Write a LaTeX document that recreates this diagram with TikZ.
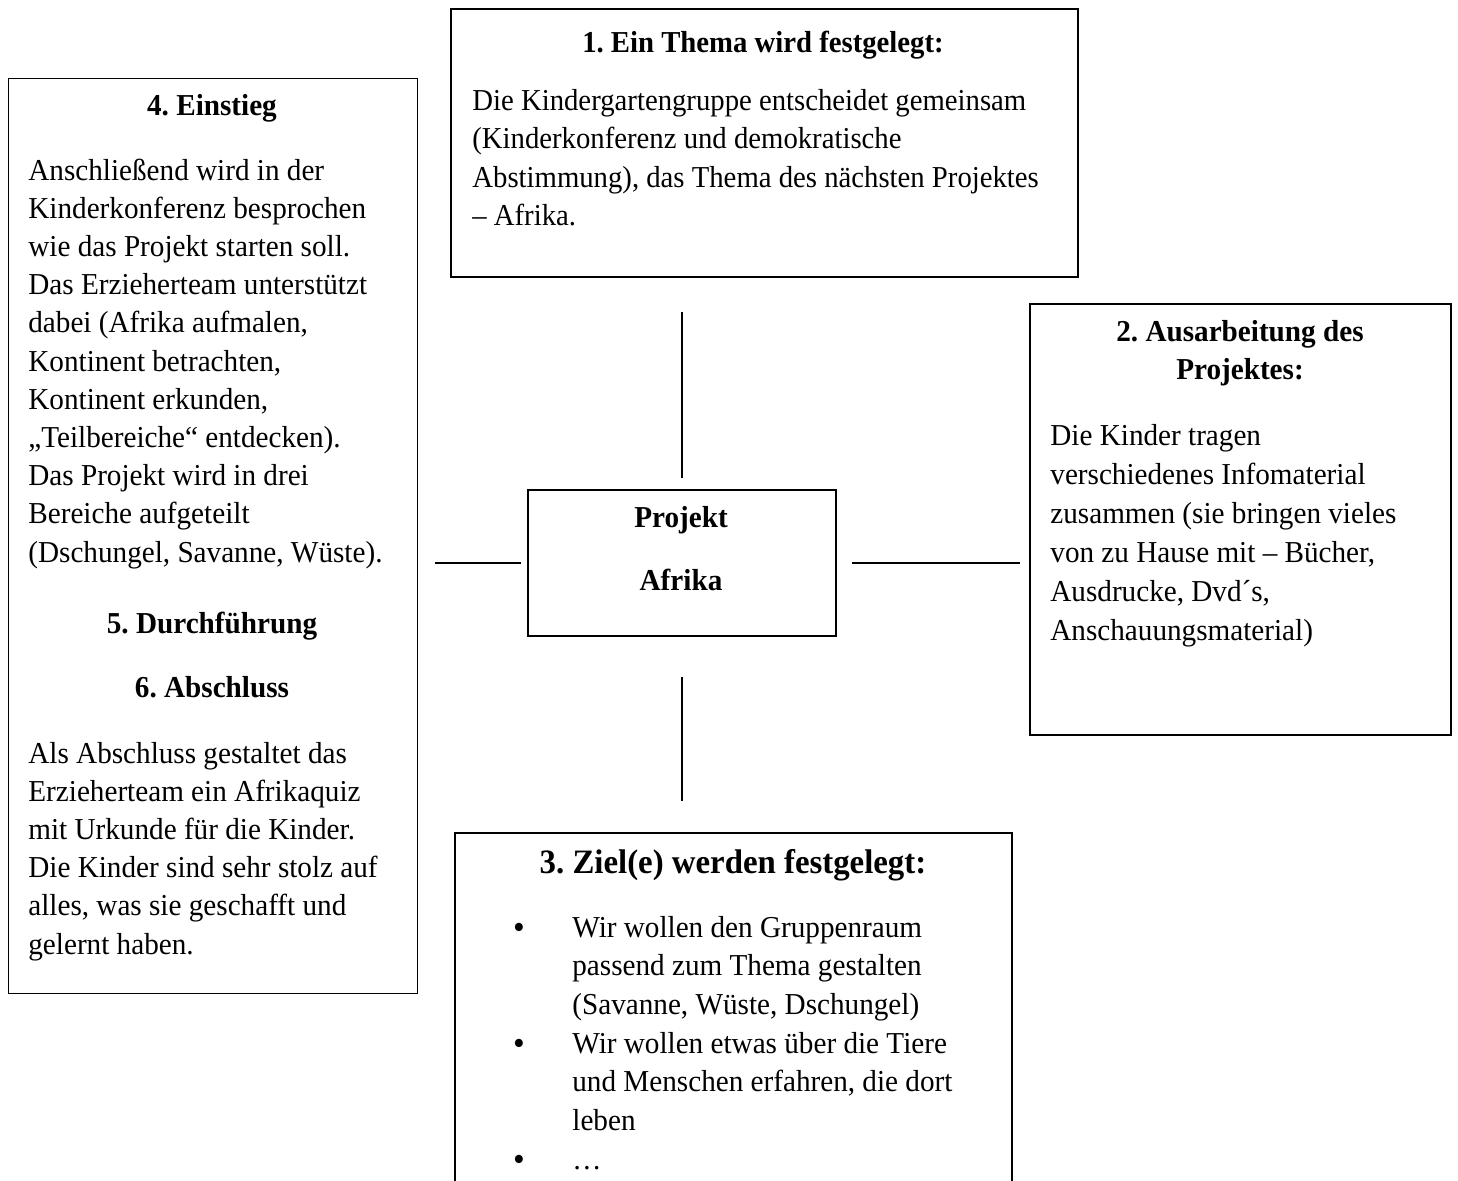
\documentclass[tikz,border=0pt]{standalone}
\usepackage{fontspec}
\setmainfont{Liberation Serif}[FakeStretch=0.96]
\newfontfamily\schmalfont[FakeStretch=0.945]{Liberation Serif}
\usepackage{tikz}
\frenchspacing

\tikzset{
  kasten/.style={draw, line width=0.9pt, rectangle, anchor=north west, inner sep=0pt},
  titel/.style={font=\fontsize{15.2}{19.25}\selectfont\bfseries, anchor=base, inner sep=0pt},
  fliess/.style={font=\fontsize{15.2}{19.25}\selectfont, anchor=base west, align=flush left, text width=300pt, inner sep=0pt},
  linie/.style={line width=0.8pt}
}

\begin{document}
\begin{tikzpicture}[x=0.5pt, y=-0.5pt]
\useasboundingbox (0,0) rectangle (1458,1180);

% Kästen
\node[kasten, minimum width=313.5pt, minimum height=134pt] (thema) at (450,8) {};
\node[kasten, line width=0.7pt, minimum width=204.5pt, minimum height=457.5pt] (einstieg) at (8,78) {};
\node[kasten, minimum width=210.5pt, minimum height=215.5pt] (ausarbeitung) at (1029,303) {};
\node[kasten, line width=1pt, minimum width=154pt, minimum height=73pt] (mitte) at (527,489) {};
\node[kasten, draw=none, minimum width=277.5pt, minimum height=173.5pt] (ziele) at (455,833) {};
\draw[line width=0.9pt] (ziele.south west) |- (ziele.north east) -- (ziele.south east); % unten offen

% Verbindungslinien
\draw[linie, shorten <=17pt, shorten >=5.5pt] (mitte.north |- thema.south) -- (mitte.north);
\draw[linie, shorten <=20pt, shorten >=16pt] (mitte.south) -- (mitte.south |- ziele.north);
\draw[linie, shorten <=3pt, shorten >=8.5pt] (mitte.west) -- (einstieg.east |- mitte.west);
\draw[linie, shorten <=7.5pt, shorten >=4.5pt] (mitte.east) -- (ausarbeitung.west |- mitte.east);

% 1. Thema
\node[titel, font=\schmalfont\fontsize{15.2}{19.25}\selectfont\bfseries] (thematitel) at (763,52) {1. Ein Thema wird festgelegt:};
\node[fliess, font=\schmalfont\fontsize{15.2}{19.25}\selectfont] (thematext) at (472,110)
  {Die Kindergartengruppe entscheidet gemeinsam\\
   (Kinderkonferenz und demokratische\\
   Abstimmung), das Thema des nächsten Projektes\\
   – Afrika.};

% 2. Ausarbeitung
\node[titel, text width=200pt, align=flush center] (ausarbeitungtitel) at (1240,341) {2. Ausarbeitung des\\ Projektes:};
\node[fliess, font=\fontsize{15.2}{19.5}\selectfont] (ausarbeitungtext) at (1050,445)
  {Die Kinder tragen\\
   verschiedenes Infomaterial\\
   zusammen (sie bringen vieles\\
   von zu Hause mit – Bücher,\\
   Ausdrucke, Dvd´s,\\
   Anschauungsmaterial)};

% Mitte
\node[titel] (projekt) at (681,527) {Projekt};
\node[titel] (afrika) at (681,590) {Afrika};

% 4. bis 6.
\node[titel] (einstiegtitel) at (212,115) {4. Einstieg};
\node[fliess, font=\fontsize{15.2}{19.1}\selectfont] (einstiegtext) at (28,180)
  {Anschließend wird in der\\
   Kinderkonferenz besprochen\\
   wie das Projekt starten soll.\\
   Das Erzieherteam unterstützt\\
   dabei (Afrika aufmalen,\\
   Kontinent betrachten,\\
   Kontinent erkunden,\\
   „Teilbereiche“ entdecken).\\
   Das Projekt wird in drei\\
   Bereiche aufgeteilt\\
   (Dschungel, Savanne, Wüste).};
\node[titel] (durchfuehrung) at (212,633) {5. Durchführung};
\node[titel] (abschluss) at (212,697) {6. Abschluss};
\node[fliess, font=\fontsize{15.2}{19.1}\selectfont] (abschlusstext) at (28,763)
  {Als Abschluss gestaltet das\\
   Erzieherteam ein Afrikaquiz\\
   mit Urkunde für die Kinder.\\
   Die Kinder sind sehr stolz auf\\
   alles, was sie geschafft und\\
   gelernt haben.};

% 3. Ziele
\node[titel, font=\fontsize{17.1}{19.25}\selectfont\bfseries] (zieletitel) at (733,873) {3. Ziel(e) werden festgelegt:};
\node[titel] (punkt1) at (519,937) {•};
\node[titel] (punkt2) at (519,1053) {•};
\node[titel] (punkt3) at (519,1169) {•};
\node[fliess] (ziel1) at (572,937)
  {Wir wollen den Gruppenraum\\
   passend zum Thema gestalten\\
   (Savanne, Wüste, Dschungel)};
\node[fliess] (ziel2) at (572,1053)
  {Wir wollen etwas über die Tiere\\
   und Menschen erfahren, die dort\\
   leben};
\node[fliess] (ziel3) at (572,1169) {…};
\end{tikzpicture}
\end{document}
